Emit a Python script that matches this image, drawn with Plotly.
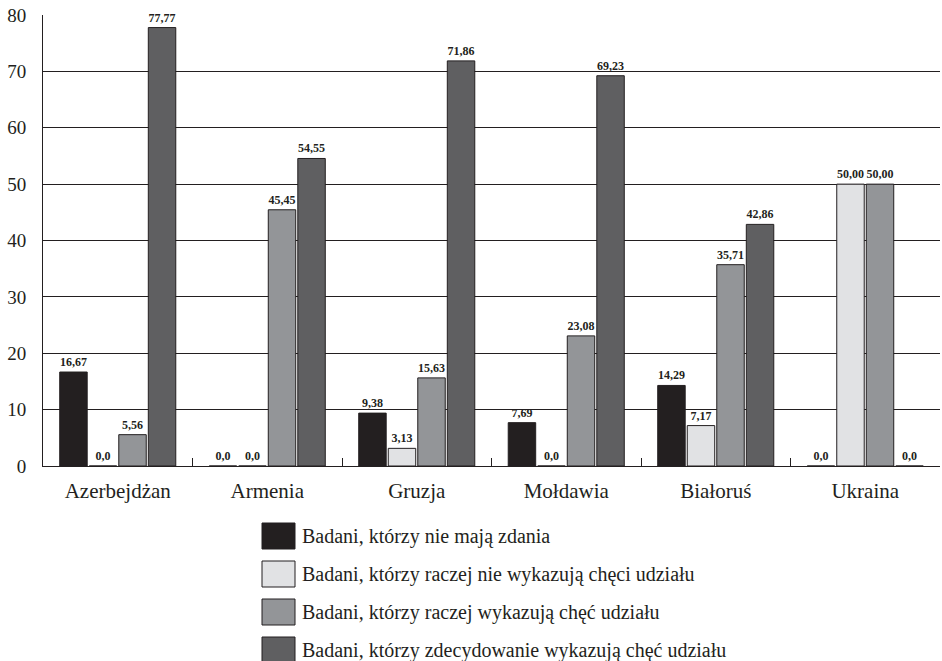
import plotly.graph_objects as go

categories = ["Azerbejdżan", "Armenia", "Gruzja", "Mołdawia", "Białoruś", "Ukraina"]
series_names = [
    "Badani, którzy nie mają zdania",
    "Badani, którzy raczej nie wykazują chęci udziału",
    "Badani, którzy raczej wykazują chęć udziału",
    "Badani, którzy zdecydowanie wykazują chęć udziału",
]
no_opinion = [16.67, 0.0, 9.38, 7.69, 14.29, 0.0]
rather_not = [0.0, 0.0, 3.13, 0.0, 7.17, 50.00]
rather_yes = [5.56, 45.45, 15.63, 23.08, 35.71, 50.00]
definitely = [77.77, 54.55, 71.86, 69.23, 42.86, 0.0]
colors = ["#231f20", "#e1e2e4", "#939598", "#5f5f61"]
y_ticks = [0, 10, 20, 30, 40, 50, 60, 70, 80]

all_series = [no_opinion, rather_not, rather_yes, definitely]


def fmt(v):
    return "0,0" if v == 0 else f"{v:.2f}".replace(".", ",")


W, H = 942, 661
ML, MR, MT, MB = 43, 2, 15, 661 - 466
plot_w = W - ML - MR
plot_h = H - MT - MB

fig = go.Figure()
for name, vals, col in zip(series_names, all_series, colors):
    fig.add_trace(go.Bar(
        x=categories, y=vals, name=name,
        marker=dict(color=col, line=dict(color="#231f20", width=1)),
        text=[fmt(v) for v in vals], textposition="outside",
        textfont=dict(family="Liberation Serif", size=12, color="#231f20", weight="bold"),
        cliponaxis=False, showlegend=False,
    ))


def px_x(p):
    return (p - ML) / plot_w


def px_y(p):
    return (H - MB - p) / plot_h


shapes = []
annotations = []
box_x0, box_x1 = 262, 295
row_top0, row_step, box_h = 523, 38, 26
for i, (name, col) in enumerate(zip(series_names, colors)):
    top = row_top0 + i * row_step
    shapes.append(dict(type="rect", xref="paper", yref="paper",
                       x0=px_x(box_x0), x1=px_x(box_x1),
                       y0=px_y(top + box_h), y1=px_y(top),
                       fillcolor=col, line=dict(color="#231f20", width=1)))
    annotations.append(dict(xref="paper", yref="paper", x=px_x(300), y=px_y(top + box_h / 2),
                            text=name, showarrow=False, xanchor="left", yanchor="middle",
                            font=dict(family="Liberation Serif", size=20, color="#231f20")))

fig.update_layout(
    width=W, height=H,
    margin=dict(l=ML, r=MR, t=MT, b=MB, autoexpand=False),
    paper_bgcolor="white", plot_bgcolor="white",
    barmode="group", bargap=0.21, bargroupgap=0.07,
    shapes=shapes, annotations=annotations,
    font=dict(family="Liberation Serif", color="#231f20"),
    xaxis=dict(showline=True, linecolor="#231f20", linewidth=1, automargin=False,
               ticks="inside", tickson="boundaries", ticklen=8, tickcolor="#231f20",
               tickfont=dict(size=21), ticklabelstandoff=6, showgrid=False),
    yaxis=dict(range=[0, 80], tickvals=y_ticks, showgrid=True, gridcolor="#231f20", gridwidth=1,
               showline=True, linecolor="#231f20", linewidth=1, zeroline=False, automargin=False,
               tickfont=dict(size=19), ticks="", ticklabelstandoff=12,
               ticklabeloverflow="allow"),
)

fig.write_html("out.html", config={"displayModeBar": False},
               post_script="document.body.style.margin='0px';document.body.style.overflow='hidden';")
